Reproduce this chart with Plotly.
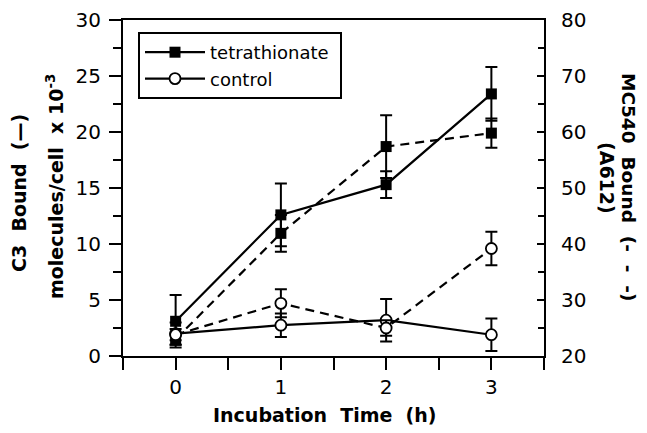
import plotly.graph_objects as go

# ---- data ----
time_h = [0, 1, 2, 3]
# C3 bound (left axis, molecules/cell x 10^-3) - solid lines
c3_tetra = [3.1, 12.6, 15.3, 23.4]
c3_tetra_err = [2.35, 2.8, 1.2, 2.4]
c3_control = [2.0, 2.75, 3.2, 1.9]
c3_control_err = [1.0, 1.05, 1.9, 1.45]
# MC540 bound (right axis, A612) - dashed lines
mc_tetra = [23.0, 41.9, 57.4, 59.8]
mc_tetra_err = [1.0, 3.3, 5.6, 2.6]
mc_control = [23.8, 29.4, 25.0, 39.2]
mc_control_err = [1.0, 2.5, 1.4, 3.0]

x_tickvals = [0, 1, 2, 3]
x_ticktext = ["0", "1", "2", "3"]
x_minor_tickvals = [-0.5, 0.5, 1.5, 2.5, 3.5]

# ---- layout geometry ----
# page has an 8px body margin, so the figure is drawn from (8, 8)
OFF = 8
W, H = 647 - 2 * OFF, 433 - 2 * OFF
# plot area in page pixels
PL, PR, PT, PB = 123, 544, 20, 356
L, R, T, B = PL - OFF, PR - OFF, PT - OFF, PB - OFF


def px(xpage):
    return (xpage - PL) / (PR - PL)


def py(ypage):
    return (PB - ypage) / (PB - PT)


BLACK = "black"
TICKFONT = dict(family="DejaVu Sans", size=20, color=BLACK)

fig = go.Figure()


def add(yvals, err, yaxis, dash, symbol, name, show):
    is_open = symbol == "circle"
    fig.add_trace(go.Scatter(
        x=time_h, y=yvals, yaxis=yaxis, name=name, showlegend=show,
        mode="lines+markers",
        line=dict(color=BLACK, width=2.2, dash=dash),
        marker=dict(symbol=symbol, size=11,
                    color="white" if is_open else BLACK,
                    line=dict(color=BLACK, width=1.8 if is_open else 0)),
        error_y=dict(type="data", array=err, visible=True, color=BLACK,
                     thickness=2, width=6),
    ))


NB = "\u00a0"
add(mc_tetra, mc_tetra_err, "y2", "9px,6px", "square", "tetrathionate", False)
add(mc_control, mc_control_err, "y2", "9px,6px", "circle", "control", False)
add(c3_tetra, c3_tetra_err, "y", "solid", "square", "tetrathionate" + NB, True)
add(c3_control, c3_control_err, "y", "solid", "circle", "control", True)

fig.update_layout(
    width=W, height=H,
    margin=dict(l=L, r=W - R, t=T, b=H - B, pad=0, autoexpand=False),
    paper_bgcolor="white", plot_bgcolor="white",
    font=dict(family="DejaVu Sans", color=BLACK),
    xaxis=dict(range=[-0.5, 3.5], tickvals=x_tickvals, ticktext=x_ticktext,
               ticks="outside", ticklen=12, tickwidth=2, tickcolor=BLACK,
               minor=dict(tickvals=x_minor_tickvals, ticks="outside",
                          ticklen=12, tickwidth=2, tickcolor=BLACK,
                          showgrid=False),
               showline=True, linewidth=2, linecolor=BLACK, mirror=True,
               showgrid=False, zeroline=False, tickfont=TICKFONT,
               automargin=False),
    yaxis=dict(range=[0, 30], dtick=5, ticks="outside", ticklen=12,
               tickwidth=2, tickcolor=BLACK,
               minor=dict(dtick=2.5, ticks="outside", ticklen=8,
                          tickwidth=2, tickcolor=BLACK, showgrid=False),
               showline=True, linewidth=2, linecolor=BLACK,
               showgrid=False, zeroline=False, tickfont=TICKFONT,
               ticklabelstandoff=4, automargin=False),
    yaxis2=dict(range=[20, 80], dtick=10, overlaying="y", side="right",
                ticks="inside", ticklen=7, tickwidth=2, tickcolor=BLACK,
                minor=dict(dtick=5, ticks="inside", ticklen=6,
                           tickwidth=2, tickcolor=BLACK, showgrid=False),
                showline=True, linewidth=2, linecolor=BLACK,
                showgrid=False, zeroline=False, tickfont=TICKFONT,
                ticklabelstandoff=11, automargin=False),
    legend=dict(x=px(138), y=py(32), xanchor="left", yanchor="top",
                bgcolor="white", bordercolor=BLACK, borderwidth=2,
                font=dict(family="DejaVu Sans", size=18, color=BLACK),
                itemwidth=60, tracegroupgap=0),
    showlegend=True,
)

annos = [
    dict(text=f"<b>Incubation{NB}{NB}Time{NB}{NB}(h)</b>", x=px(325), y=py(415),
         textangle=0, size=19),
    dict(text=f"<b>C3{NB}{NB}Bound{NB}{NB}(—)</b>", x=px(19), y=py(193),
         textangle=-90, size=19),
    dict(text=f"<b>molecules/cell{NB}{NB}x{NB}10<sup>-3</sup></b>", x=px(55), y=py(187),
         textangle=-90, size=19),
    dict(text=f"<b>MC540{NB}{NB}Bound{NB}{NB}(-{NB}{NB}-{NB}{NB}-)</b>", x=px(629), y=py(187),
         textangle=90, size=18.5),
    dict(text="<b>(A612)</b>", x=px(607), y=py(178), textangle=90, size=19),
]
for a in annos:
    size = a.pop("size")
    fig.add_annotation(xref="paper", yref="paper", showarrow=False,
                       xanchor="center", yanchor="middle",
                       font=dict(family="DejaVu Sans", size=size, color=BLACK),
                       **a)

fig.write_html("out.html")
